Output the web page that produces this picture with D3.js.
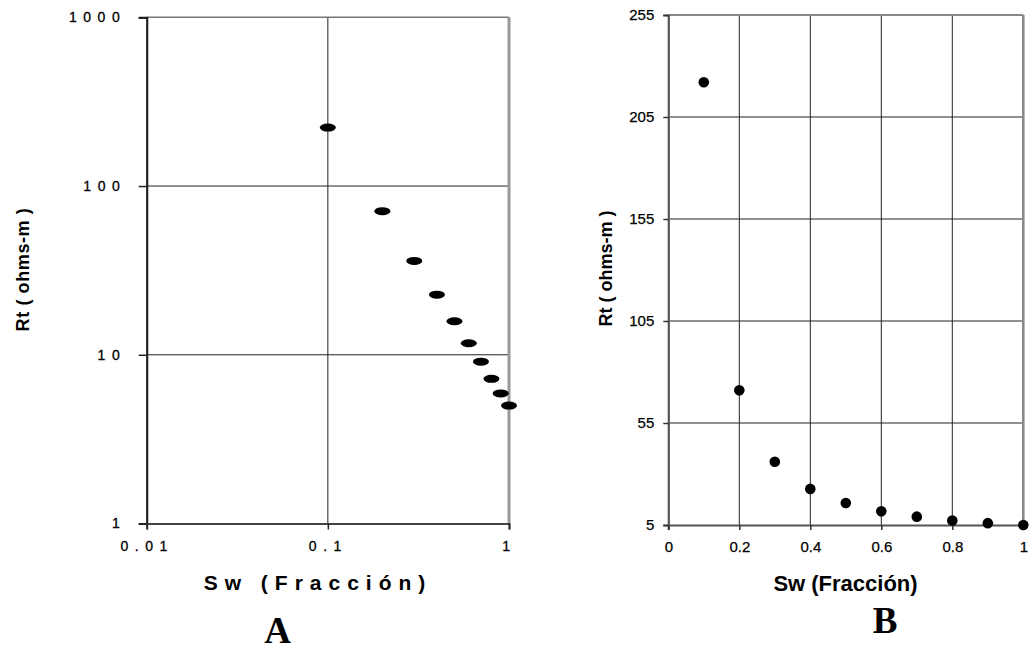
<!DOCTYPE html>
<html>
<head>
<meta charset="utf-8">
<script src="https://cdn.jsdelivr.net/npm/d3@7/dist/d3.min.js"></script>
<style>
  html, body { margin: 0; padding: 0; background: #fff; }
  svg { display: block; }
  text { font-family: "Liberation Sans", Arial, Helvetica, sans-serif; fill: #000; }
</style>
</head>
<body>
<svg id="chart" width="1029" height="656"></svg>
<script>
// ---- data ----
const sw = [0.1, 0.2, 0.3, 0.4, 0.5, 0.6, 0.7, 0.8, 0.9, 1.0];
const rt = [222, 71, 36, 22.7, 15.8, 11.7, 9.1, 7.2, 5.9, 5.0];

const xTicksA = [0.01, 0.1, 1];
const yTicksA = [1, 10, 100, 1000];
const xTicksB = [0, 0.2, 0.4, 0.6, 0.8, 1];
const yTicksB = [5, 55, 105, 155, 205, 255];

const xTitleA = "Sw (Fracción)";
const yTitle = "Rt ( ohms-m )";
const xTitleB = "Sw (Fracción)";
const panelLabels = ["A", "B"];

const points = sw.map((s, i) => ({ sw: s, rt: rt[i] }));

const svg = d3.select("#chart");

// ================= Panel A (log-log) =================
const A = { left: 146.7, right: 509, top: 17.3, bottom: 523.5 };
const xA = d3.scaleLog().domain([0.01, 1]).range([A.left, A.right]);
const yA = d3.scaleLog().domain([1, 1000]).range([A.bottom, A.top]);
const gA = svg.append("g");

// gridlines
gA.selectAll("line.gx").data(xTicksA.slice(1, -1)).enter().append("line")
  .attr("x1", d => xA(d)).attr("x2", d => xA(d))
  .attr("y1", A.top).attr("y2", A.bottom)
  .attr("stroke", "#222").attr("stroke-width", 1);
gA.selectAll("line.gy").data(yTicksA.slice(1, -1)).enter().append("line")
  .attr("x1", A.left).attr("x2", A.right)
  .attr("y1", d => yA(d)).attr("y2", d => yA(d))
  .attr("stroke", "#222").attr("stroke-width", 1);
// top/right border
gA.append("line").attr("x1", A.left).attr("x2", A.right).attr("y1", A.top).attr("y2", A.top)
  .attr("stroke", "#777").attr("stroke-width", 1.5);
gA.append("line").attr("x1", A.right).attr("x2", A.right).attr("y1", A.top).attr("y2", A.bottom)
  .attr("stroke", "#999").attr("stroke-width", 3);

// axes
const axAy = gA.append("g").attr("transform", `translate(${A.left},0)`)
  .call(d3.axisLeft(yA).tickValues(yTicksA).tickFormat(d3.format("d")).tickSize(8).tickPadding(12.5));
const axAx = gA.append("g").attr("transform", `translate(0,${A.bottom})`)
  .call(d3.axisBottom(xA).tickValues(xTicksA).tickFormat(d => String(d)).tickSize(6).tickPadding(12));
[axAy, axAx].forEach(ax => {
  ax.selectAll("text").style("font-size", "14px").style("letter-spacing", "6.5px")
    .attr("fill", "#000").attr("stroke", "#000").attr("stroke-width", 0.3);
  ax.selectAll("line").attr("stroke", "#222").attr("stroke-width", 1.5);
});
axAy.select(".domain").attr("stroke", "#222").attr("stroke-width", 2.2);
axAx.select(".domain").attr("stroke", "#444").attr("stroke-width", 2);

// markers
gA.selectAll("ellipse").data(points).enter().append("ellipse")
  .attr("cx", d => xA(d.sw)).attr("cy", d => yA(d.rt))
  .attr("rx", 8).attr("ry", 4).attr("fill", "#000");

// titles
gA.append("text").attr("x", 318).attr("y", 590).attr("text-anchor", "middle")
  .style("font-size", "21px").style("font-weight", "bold").style("letter-spacing", "7px")
  .text(xTitleA);
gA.append("text").attr("transform", "translate(28.5,269.5) rotate(-90)").attr("text-anchor", "middle")
  .style("font-size", "18px").style("font-weight", "bold").style("letter-spacing", "0.6px")
  .text(yTitle);
gA.append("text").attr("x", 277.5).attr("y", 643).attr("text-anchor", "middle")
  .style("font-family", "'Liberation Serif', 'Times New Roman', serif")
  .style("font-size", "37px").style("font-weight", "bold").text(panelLabels[0]);

// ================= Panel B (linear) =================
const B = { left: 668.3, right: 1023.3, top: 15, bottom: 525 };
const xB = d3.scaleLinear().domain([0, 1]).range([B.left, B.right]);
const yB = d3.scaleLinear().domain([5, 255]).range([B.bottom, B.top]);
const gB = svg.append("g");

gB.selectAll("line.gx").data(xTicksB.slice(1, -1)).enter().append("line")
  .attr("x1", d => xB(d)).attr("x2", d => xB(d))
  .attr("y1", B.top).attr("y2", B.bottom)
  .attr("stroke", "#222").attr("stroke-width", 1);
gB.selectAll("line.gy").data(yTicksB.slice(1, -1)).enter().append("line")
  .attr("x1", B.left).attr("x2", B.right)
  .attr("y1", d => yB(d)).attr("y2", d => yB(d))
  .attr("stroke", "#222").attr("stroke-width", 1);
gB.append("line").attr("x1", B.left).attr("x2", B.right).attr("y1", B.top).attr("y2", B.top)
  .attr("stroke", "#888").attr("stroke-width", 2);
gB.append("line").attr("x1", B.right).attr("x2", B.right).attr("y1", B.top).attr("y2", B.bottom)
  .attr("stroke", "#888").attr("stroke-width", 2.5);

const axBy = gB.append("g").attr("transform", `translate(${B.left},0)`)
  .call(d3.axisLeft(yB).tickValues(yTicksB).tickFormat(d3.format("d")).tickSize(5).tickPadding(9));
const axBx = gB.append("g").attr("transform", `translate(0,${B.bottom})`)
  .call(d3.axisBottom(xB).tickValues(xTicksB).tickFormat(d => String(d)).tickSize(5).tickPadding(11));
[axBy, axBx].forEach(ax => {
  ax.selectAll("text").style("font-size", "15px")
    .attr("fill", "#000").attr("stroke", "#000").attr("stroke-width", 0.25);
  ax.selectAll("line").attr("stroke", "#333").attr("stroke-width", 1.5);
  ax.select(".domain").attr("stroke", "#555").attr("stroke-width", 2.2);
});

gB.selectAll("circle").data(points).enter().append("circle")
  .attr("cx", d => xB(d.sw)).attr("cy", d => yB(d.rt))
  .attr("r", 5.3).attr("fill", "#000");

gB.append("text").attr("x", 845.5).attr("y", 591).attr("text-anchor", "middle")
  .style("font-size", "22px").style("font-weight", "bold").text(xTitleB);
gB.append("text").attr("transform", "translate(612,268.5) rotate(-90)").attr("text-anchor", "middle")
  .style("font-size", "18px").style("font-weight", "bold").text(yTitle);
gB.append("text").attr("x", 885).attr("y", 633).attr("text-anchor", "middle")
  .style("font-family", "'Liberation Serif', 'Times New Roman', serif")
  .style("font-size", "37px").style("font-weight", "bold").text(panelLabels[1]);
</script>
</body>
</html>
